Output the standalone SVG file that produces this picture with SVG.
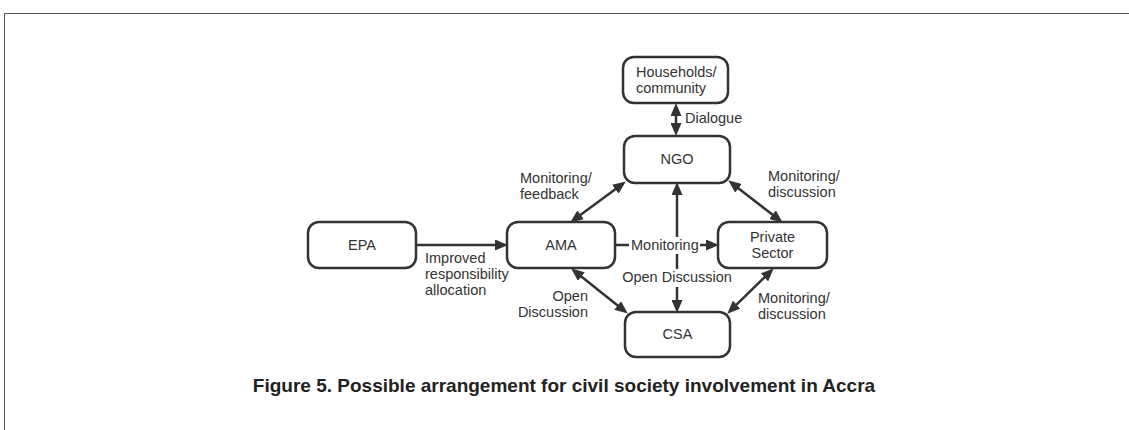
<svg xmlns="http://www.w3.org/2000/svg" width="1129" height="430" viewBox="0 0 1129 430">
<defs>
<marker id="ah" markerUnits="userSpaceOnUse" markerWidth="13" markerHeight="11" refX="8" refY="5.5" orient="auto-start-reverse" viewBox="0 0 13 11">
<path d="M0,0 L13,5.5 L0,11 z" fill="#333"/>
</marker>
<style>
.box{fill:#fff;stroke:#333;stroke-width:2.5}
.t{font-family:"Liberation Sans",Arial,sans-serif;font-size:14.5px;fill:#333}
.c{text-anchor:middle}
.e{text-anchor:end}
.ln{stroke:#333;stroke-width:2.5;fill:none}
.bg{fill:#fff}
</style>
</defs>
<rect width="1129" height="430" fill="#fff"/>
<path d="M4.5,430 V13.5 H1129" fill="none" stroke="#555" stroke-width="1"/>

<g id="connectors">
<line class="ln" x1="676" y1="108" x2="676" y2="131" marker-start="url(#ah)" marker-end="url(#ah)"/>
<line class="ln" x1="416" y1="245" x2="503" y2="245" marker-end="url(#ah)"/>
<line class="ln" x1="574.2" y1="219.6" x2="621.8" y2="184.4" marker-start="url(#ah)" marker-end="url(#ah)"/>
<line class="ln" x1="732.2" y1="183.4" x2="778.8" y2="219.6" marker-start="url(#ah)" marker-end="url(#ah)"/>
<line class="ln" x1="615" y1="245" x2="714" y2="245" marker-end="url(#ah)"/>
<line class="ln" x1="677" y1="187" x2="677" y2="308" marker-start="url(#ah)" marker-end="url(#ah)"/>
<line class="ln" x1="575.1" y1="271.5" x2="623.9" y2="310.5" marker-start="url(#ah)" marker-end="url(#ah)"/>
<line class="ln" x1="770.1" y1="271.8" x2="730.9" y2="310.2" marker-start="url(#ah)" marker-end="url(#ah)"/>
<rect class="bg" x="629" y="237" width="71" height="17"/>
<rect class="bg" x="620" y="269" width="114" height="18"/>
<text class="t" x="685" y="123">Dialogue</text>
<text class="t" x="425" y="263">Improved</text>
<text class="t" x="425" y="279">responsibility</text>
<text class="t" x="425" y="295">allocation</text>
<text class="t" x="520" y="183">Monitoring/</text>
<text class="t" x="520" y="199">feedback</text>
<text class="t" x="768" y="181">Monitoring/</text>
<text class="t" x="768" y="197">discussion</text>
<text class="t" x="631" y="250">Monitoring</text>
<text class="t c" x="677" y="282">Open Discussion</text>
<text class="t e" x="588" y="301">Open</text>
<text class="t e" x="588" y="317">Discussion</text>
<text class="t" x="758" y="303">Monitoring/</text>
<text class="t" x="758" y="319">discussion</text>
</g>

<g id="households">
<rect class="box" x="623" y="57" width="105" height="46" rx="11"/>
<text class="t" x="636" y="77">Households/</text>
<text class="t" x="636" y="93">community</text>
</g>
<g id="ngo">
<rect class="box" x="624" y="136" width="106" height="47" rx="11"/>
<text class="t c" x="677" y="164">NGO</text>
</g>
<g id="epa">
<rect class="box" x="308" y="222" width="108" height="46" rx="11"/>
<text class="t c" x="362" y="250">EPA</text>
</g>
<g id="ama">
<rect class="box" x="507" y="222" width="108" height="46" rx="11"/>
<text class="t c" x="561" y="250">AMA</text>
</g>
<g id="private">
<rect class="box" x="718" y="222" width="109" height="46" rx="11"/>
<text class="t c" x="772.5" y="242">Private</text>
<text class="t c" x="772.5" y="258">Sector</text>
</g>
<g id="csa">
<rect class="box" x="625" y="312" width="105" height="45" rx="11"/>
<text class="t c" x="677.5" y="339">CSA</text>
</g>

<text x="564" y="392" font-family="'Liberation Sans',Arial,sans-serif" font-size="19" font-weight="bold" fill="#222" text-anchor="middle">Figure 5. Possible arrangement for civil society involvement in Accra</text>
</svg>
